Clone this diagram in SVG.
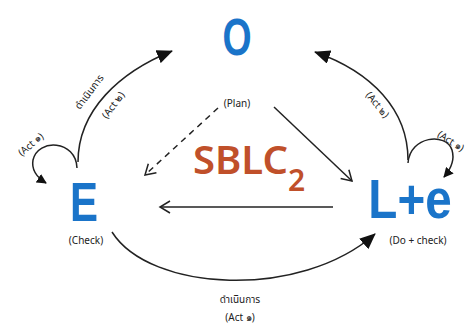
<svg xmlns="http://www.w3.org/2000/svg" width="473" height="329" viewBox="0 0 473 329">
<style>
.big{font-family:"Liberation Sans",Arial,sans-serif;font-weight:bold;fill:#1a74c9}
.lbl{font-family:"Noto Sans","Open Sans",sans-serif;font-size:10px;fill:#222}
.th{font-family:"Noto Sans","Noto Sans Thai","Loma",sans-serif;font-size:10px;fill:#222}
.ln{fill:none;stroke:#222;stroke-width:1.5}
</style>
<defs>
<marker id="tri" markerUnits="userSpaceOnUse" markerWidth="16" markerHeight="14" viewBox="0 0 16 14" refX="15" refY="7" orient="auto">
<path d="M0 0 L16 7 L0 14 Z" fill="#111"/>
</marker>
<marker id="tris" markerUnits="userSpaceOnUse" markerWidth="10" markerHeight="10" viewBox="0 0 10 10" refX="9" refY="5" orient="auto">
<path d="M0 0 L10 5 L0 10 Z" fill="#111"/>
</marker>
<marker id="chev" markerUnits="userSpaceOnUse" markerWidth="14" markerHeight="14" viewBox="0 0 14 14" refX="12" refY="7" orient="auto">
<path d="M2 1 L12 7 L2 13" fill="none" stroke="#222" stroke-width="1.5"/>
</marker>
</defs>
<g id="connectors">
<path class="ln" d="M78 162 C78 110 120 72 172 51" marker-end="url(#tri)"/>
<path class="ln" d="M408 160 C408 110 372 72 315 52" marker-end="url(#tri)"/>
<path class="ln" d="M112 232 C150 292 300 300 375 234" marker-end="url(#tri)"/>
<path class="ln" d="M77 168 C76 140 38 138 33 160 C31 171 38 178 46 183" marker-end="url(#tris)"/>
<path class="ln" d="M408 163 C410 136 446 132 452 150 C455 160 450 170 444 177" marker-end="url(#tris)"/>
<path class="ln" d="M218 108 L145 175" stroke-dasharray="6 5" marker-end="url(#chev)"/>
<path class="ln" d="M274 107 L352 181" marker-end="url(#chev)"/>
<path class="ln" d="M333 207 L160 207" marker-end="url(#chev)"/>
<text class="lbl" transform="translate(33 147) rotate(-40)" text-anchor="middle">(Act ๑)</text>
<text class="th" transform="translate(92 94) rotate(-53)" text-anchor="middle">ดำเนินการ</text>
<text class="lbl" transform="translate(116 107) rotate(-53)" text-anchor="middle">(Act ๒)</text>
<text class="lbl" transform="translate(375 107) rotate(50)" text-anchor="middle">(Act ๒)</text>
<text class="lbl" transform="translate(449 144) rotate(33)" text-anchor="middle">(Act ๑)</text>
<text class="th" x="240" y="303" text-anchor="middle">ดำเนินการ</text>
<text class="lbl" x="240" y="321" text-anchor="middle">(Act ๑)</text>
</g>
<g id="node-O">
<text class="big" x="0" y="0" font-size="52" text-anchor="middle" transform="translate(237 55) scale(0.72 1)">O</text>
<text class="lbl" x="237" y="107" text-anchor="middle">(Plan)</text>
</g>
<g id="node-E">
<text class="big" x="0" y="0" font-size="56" text-anchor="middle" transform="translate(84 221) scale(0.75 1)">E</text>
<text class="lbl" x="86" y="244" text-anchor="middle">(Check)</text>
</g>
<g id="node-Le">
<text class="big" x="0" y="0" font-size="56" text-anchor="middle" transform="translate(410 218) scale(0.85 1)">L+e</text>
<text class="lbl" x="418" y="244" text-anchor="middle">(Do + check)</text>
</g>
<g id="title">
<text x="193" y="174" font-family="Noto Sans, Open Sans, sans-serif" font-weight="600" font-size="40" fill="#c0502a">SBLC<tspan font-size="30" dy="17">2</tspan></text>
</g>
</svg>
